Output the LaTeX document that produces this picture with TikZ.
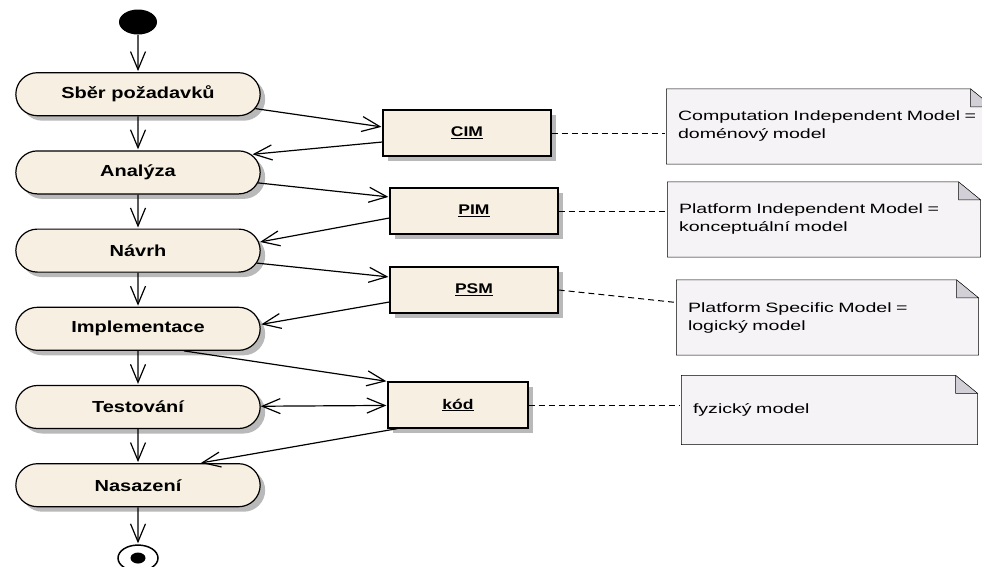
\documentclass[tikz,border=0pt]{standalone}
\usepackage{fontspec}
\setmainfont{Liberation Sans}[FakeStretch=1.25]
\newfontfamily\notefont{Liberation Sans}[FakeStretch=1.45]
\usepackage{xcolor}
\usetikzlibrary{arrows.meta,shadows,backgrounds}
\usetikzlibrary{positioning,shapes.geometric,shapes.misc}

\definecolor{actfill}{RGB}{247,240,226}
\definecolor{notefill}{RGB}{246,243,247}
\definecolor{foldgray}{RGB}{210,208,214}
\definecolor{shadowgray}{RGB}{185,185,185}

\begin{document}
\begin{tikzpicture}[->, shorten >=1pt, >={Straight Barb[length=18pt,width=15pt]},
                x=1pt, y=-1pt, node distance=34pt, line width=1.2pt,
                shadowed/.style={drop shadow={shadow xshift=5pt, shadow yshift=-5pt, fill=shadowgray, opacity=1}},
                act node/.style={rounded rectangle, draw, fill=actfill, shadowed,
                  minimum width=251pt, minimum height=43pt, font=\fontsize{16}{19}\selectfont\bfseries},
                obj node/.style={rectangle, draw, fill=actfill, shadowed,
                  minimum height=46pt, font=\fontsize{14}{17}\selectfont\bfseries},
                note node/.style={rectangle, minimum height=74pt, text width=#1, inner xsep=11pt,
                  align=left, font=\notefont\fontsize{13.5}{18}\selectfont}]

  \useasboundingbox (0,0) rectangle (982,566);

  % activities
  \node[ellipse, fill=black, minimum width=38pt, minimum height=25pt, inner sep=0pt] (0) at (138,22) {};
  \node[act node] (1) [below=37pt of 0] {Sběr požadavků};
  \node[act node] (2) [below=of 1] {Analýza};
  \node[act node] (3) [below=of 2] {Návrh};
  \node[act node] (4) [below=of 3] {Implementace};
  \node[act node] (5) [below=of 4] {Testování};
  \node[act node] (6) [below=of 5] {Nasazení};
  \node[ellipse, draw, fill=white, line width=1.5pt, minimum width=40pt, minimum height=26pt] (7) [below=37pt of 6] {};
  \node[ellipse, fill=black, minimum width=15pt, minimum height=11pt, inner sep=0pt] (8) at (7) {};

  % objects
  \node[obj node, minimum width=168pt] (cim) at (467,133) {\underline{CIM}};
  \node[obj node, minimum width=168pt] (pim) at (474,211) {\underline{PIM}};
  \node[obj node, minimum width=168pt] (psm) at (474,290) {\underline{PSM}};
  \node[obj node, minimum width=140pt] (kod) at (458,405) {\underline{kód}};

  % notes
  \node[note node=303pt] (n1) at (829.5,126.5) {Computation Independent Model =\\doménový model};
  \node[note node=290pt] (n2) at (824,219.5) {Platform Independent Model =\\konceptuální model};
  \node[note node=279pt] (n3) at (827.5,317.5) {Platform Specific Model =\\logický model};
  \node[note node=273pt, minimum height=68pt] (n4) at (829.5,410) {fyzický model};

  \begin{scope}[on background layer]
    \foreach \n in {n1,n2,n3,n4} {
      \draw[-, fill=notefill] (\n.north west) -- ([xshift=-22pt]\n.north east)
        -- ([yshift=-18pt]\n.north east) -- (\n.south east) -- (\n.south west) -- cycle;
      \draw[-, fill=foldgray] ([xshift=-22pt]\n.north east)
        -- ([xshift=-22pt,yshift=-18pt]\n.north east) -- ([yshift=-18pt]\n.north east) -- cycle;
    }
  \end{scope}

  \path
    (0) edge (1)
    (1) edge (2)
    (2) edge (3)
    (3) edge (4)
    (4) edge (5)
    (5) edge (6)
    (6) edge (7)
    (1.-7) edge ([yshift=6pt]cim.west)
    ([yshift=-9pt]cim.west) edge (2.9)
    (2.-5) edge ([yshift=14pt]pim.west)
    ([yshift=-7pt]pim.west) edge (3.4)
    (3.-6) edge ([yshift=13pt]psm.west)
    ([yshift=-12pt]psm.west) edge (4.2)
    ([xshift=46pt]4.south) edge (kod.north west)
    (5) edge [<->] (kod)
    ([xshift=10pt]kod.south west) edge ([xshift=62pt]6.north);

  \path[-, dash pattern=on 6pt off 4pt, line width=1pt]
    (cim.east) edge (cim.east -| n1.west)
    (pim.east) edge (pim.east -| n2.west)
    (psm.east) edge ([yshift=15pt]n3.west)
    (kod.east) edge ([yshift=5pt]n4.west);
\end{tikzpicture}
\end{document}
